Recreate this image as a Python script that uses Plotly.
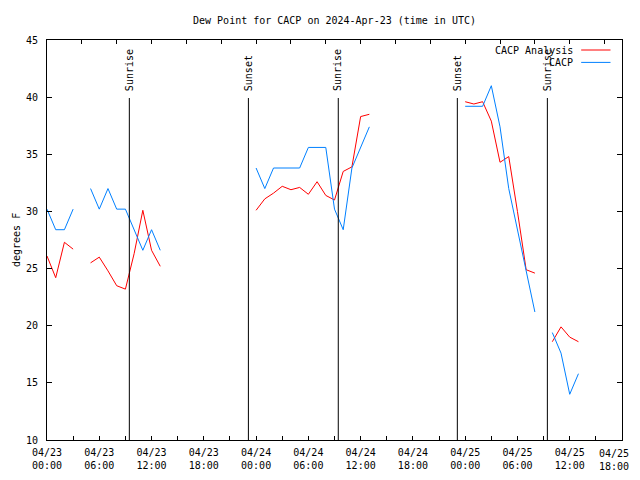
import plotly.graph_objects as go
import pandas as pd

# ---- data (hours after 2024-04-23 00:00 UTC) ----
hours = [0, 1, 2, 3, None, 5, 6, 7, 8, 9, 10, 11, 12, 13, None,
         24, 25, 26, 27, 28, 29, 30, 31, 32, 33, 34, 35, 36, 37, None,
         48, 49, 50, 51, 52, 53, 54, 55, 56, None,
         58, 59, 60, 61]
analysis = [26.1, 24.2, 27.3, 26.7, None, 25.5, 26.0, 24.8, 23.5, 23.2, 26.3, 30.1, 26.6, 25.2, None,
            30.1, 31.1, 31.6, 32.2, 31.9, 32.1, 31.5, 32.6, 31.4, 31.0, 33.5, 33.9, 38.3, 38.5, None,
            39.6, 39.4, 39.6, 37.9, 34.3, 34.8, 30.0, 24.9, 24.6, None,
            18.6, 19.9, 19.0, 18.6]
observed = [30.2, 28.4, 28.4, 30.2, None, 32.0, 30.2, 32.0, 30.2, 30.2, 28.4, 26.6, 28.4, 26.6, None,
            33.8, 32.0, 33.8, 33.8, 33.8, 33.8, 35.6, 35.6, 35.6, 30.2, 28.4, 33.8, 35.6, 37.4, None,
            39.2, 39.2, 39.2, 41.0, 37.4, 32.0, 28.4, 24.8, 21.2, None,
            19.4, 17.6, 14.0, 15.8]

sun_events = ["Sunrise", "Sunset", "Sunrise", "Sunset", "Sunrise"]
sun_times = ["2024-04-23 09:27", "2024-04-23 23:07", "2024-04-24 09:26",
             "2024-04-24 23:06", "2024-04-25 09:26"]

series_names = ["CACP Analysis", "CACP"]
series_colors = ["#ff0000", "#0080ff"]

title_text = "Dew Point for CACP on 2024-Apr-23 (time in UTC)"
y_label = "degrees F"
y_ticks = [10, 15, 20, 25, 30, 35, 40, 45]

start = pd.Timestamp("2024-04-23 00:00")
x_start, x_end = "2024-04-23 00:00", "2024-04-25 18:00"

times = [None if h is None else start + pd.Timedelta(hours=h) for h in hours]

FONT = "DejaVu Sans Mono"
# the page body has a default 8px margin; size the figure to avoid page overflow
W, H = 632, 464
L, R, T, B = 39, 18, 32, 32

fig = go.Figure()
for name, vals, col in zip(series_names, [analysis, observed], series_colors):
    fig.add_trace(go.Scatter(x=times, y=vals, mode="lines", name=name,
                             line=dict(color=col, width=1), connectgaps=False,
                             showlegend=False))

# dummy trace to show top axis ticks
fig.add_trace(go.Scatter(x=[x_start, x_end], y=[None, None], xaxis="x2",
                         mode="lines", showlegend=False, hoverinfo="skip"))

# bottom ticks every 3h, labels every 6h (last label drawn separately so it fits)
bt = list(pd.date_range(x_start, x_end, freq="3h"))
labels = [t.strftime("%m/%d<br>%H:%M") if t.hour % 6 == 0 else "" for t in bt]
btext = labels[:-1] + [""]
last_label = labels[-1]
tt = pd.date_range(x_start, x_end, freq="4h")

fig.update_layout(
    width=W, height=H,
    margin=dict(l=L, r=R, t=T, b=B, autoexpand=False),
    paper_bgcolor="white", plot_bgcolor="white",
    font=dict(family=FONT, size=10, color="black"),
    title=dict(text=title_text, x=0.5, xref="paper", xanchor="center",
               y=1 - 12 / H, yanchor="middle", yref="container",
               font=dict(family=FONT, size=10, color="black")),
    xaxis=dict(type="date", range=[x_start, x_end], tickmode="array",
               tickvals=bt, ticktext=btext, ticks="inside", ticklen=4,
               tickcolor="black", showline=True, linecolor="black", linewidth=1,
               mirror=True, showgrid=False, zeroline=False, automargin=False,
               tickfont=dict(family=FONT, size=10), ticklabelstandoff=3),
    xaxis2=dict(type="date", range=[x_start, x_end], overlaying="x", side="top",
                tickmode="array", tickvals=list(tt), showticklabels=False,
                ticks="inside", ticklen=4, tickcolor="black", showgrid=False,
                showline=False, zeroline=False, automargin=False),
    yaxis=dict(range=[10, 45], tickmode="array", tickvals=y_ticks,
               ticks="inside", ticklen=5, tickcolor="black", showline=True,
               linecolor="black", linewidth=1, mirror="ticks", showgrid=False,
               zeroline=False, tickfont=dict(family=FONT, size=10),
               ticklabelstandoff=6, automargin=False),
)

fig.add_annotation(text=last_label, x=bt[-1], xref="x", y=0, yref="paper",
                   xanchor="right", yanchor="top", xshift=9, yshift=-6,
                   showarrow=False, align="center",
                   font=dict(family=FONT, size=10, color="black"))

# sunrise/sunset lines and labels
for ev, t in zip(sun_events, sun_times):
    fig.add_shape(type="line", xref="x", yref="paper", x0=t, x1=t, y0=0, y1=0.855,
                  line=dict(color="black", width=1))
    fig.add_annotation(text=ev, x=t, xref="x", y=0.868, yref="paper",
                       xanchor="center", yanchor="bottom", textangle=-90,
                       showarrow=False, font=dict(family=FONT, size=10, color="black"))

# y-axis label (kept inside the figure's left edge)
plot_w = W - L - R
fig.add_annotation(text=y_label, x=-(L - 0.5) / plot_w, xref="paper", y=0.5, yref="paper",
                   textangle=-90, showarrow=False, xanchor="left", yanchor="middle",
                   font=dict(family=FONT, size=10, color="black"))

# gnuplot-style key (text right aligned, sample on right)
key_rows = [0.975, 0.944]
for name, col, yy in zip(series_names, series_colors, key_rows):
    fig.add_annotation(text=name, x=0.918, xref="paper", y=yy, yref="paper",
                       xanchor="right", yanchor="middle", showarrow=False,
                       font=dict(family=FONT, size=10, color="black"))
    fig.add_shape(type="line", xref="paper", yref="paper", x0=0.929, x1=0.98,
                  y0=yy, y1=yy, line=dict(color=col, width=1))

fig.write_html("out.html")
